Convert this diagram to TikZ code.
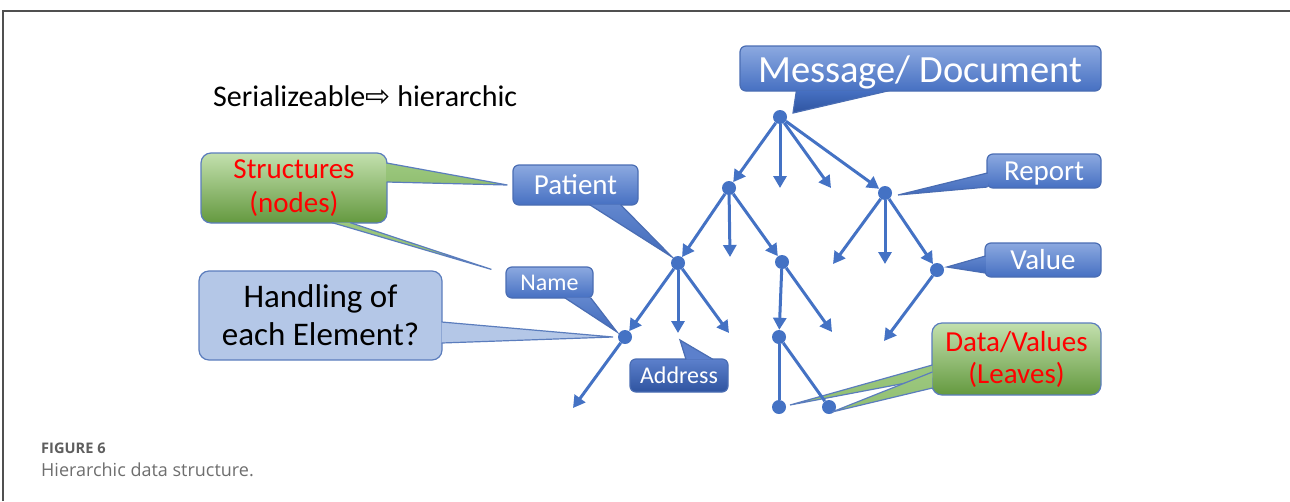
\documentclass[tikz,border=0pt]{standalone}
\usepackage{fontspec}
\setmainfont{Carlito}
\newfontfamily\symfont{DejaVu Sans}
\newfontfamily\capfont{Open Sans}
\usetikzlibrary{arrows.meta, positioning, calc}

\definecolor{treeblue}{HTML}{4472C4}
\definecolor{boxtop}{HTML}{8CA9E0}
\definecolor{boxbot}{HTML}{4670C2}
\definecolor{boxline}{HTML}{4A6DB3}
\definecolor{darktop}{HTML}{5C80CC}
\definecolor{darkbot}{HTML}{2F54A0}
\definecolor{paleblue}{HTML}{B4C7E7}
\definecolor{paleline}{HTML}{5B7DBD}
\definecolor{greentop}{HTML}{C3E0AE}
\definecolor{greenbot}{HTML}{64993F}
\definecolor{greenmid}{HTML}{9CC87E}
\definecolor{frameline}{HTML}{505050}
\definecolor{captext}{HTML}{6E6E6E}

\tikzset{
  dot/.style={circle, fill=treeblue, inner sep=0pt, minimum size=14pt},
  arr/.style={treeblue, line width=3pt, -{Triangle[length=12pt,width=13pt]}},
  link/.style={treeblue, line width=3pt},
  bluebox/.style={rounded corners=6pt, draw=boxline, line width=1.2pt, top color=boxtop, bottom color=boxbot, text=white, inner sep=0pt},
  darkbox/.style={bluebox, top color=darktop, bottom color=darkbot},
  palebox/.style={rounded corners=10pt, draw=paleline, line width=1.2pt, fill=paleblue, text=black, inner sep=0pt, align=center},
  greenbox/.style={rounded corners=10pt, draw=paleline, line width=1.2pt, top color=greentop, bottom color=greenbot, text=red, inner sep=0pt, align=center},
  bluetail/.style={draw=boxline, line width=1.2pt, top color=boxtop!40!boxbot, bottom color=boxbot!80!darkbot},
  paletail/.style={draw=paleline, line width=1.2pt, fill=paleblue},
  greentail/.style={draw=paleline, line width=1.2pt, top color=greenmid, bottom color=greenmid!80!greenbot},
}

\begin{document}
\begin{tikzpicture}[x=1pt, y=-1pt]
\useasboundingbox (0,0) rectangle (1290,501);
\draw[frameline, line width=1.5pt] (3,501) -- (3,11) -- (1290,11);

% title line
\node[anchor=base west, inner sep=0pt, font=\fontsize{30}{35}\selectfont] (title) at (213,106) {Serializeable{\symfont ⇨} hierarchic};

% callout boxes
\node[bluebox, minimum width=361pt, minimum height=45pt, text height=24.5pt, text depth=0pt, font=\fontsize{38.5}{42}\selectfont] (msg) at (920.5,68.5) {\raisebox{-1.5pt}{Message/ Document}};
\node[bluebox, minimum width=125pt, minimum height=40pt, text height=18.5pt, text depth=0pt, font=\fontsize{29}{34}\selectfont] (patient) at (575.5,185) {Patient};
\node[bluebox, minimum width=114pt, minimum height=34pt, text height=18.5pt, text depth=0pt, font=\fontsize{29}{34}\selectfont] (report) at (1044,171) {Report};
\node[bluebox, minimum width=116pt, minimum height=34pt, text height=18.5pt, text depth=0pt, font=\fontsize{29}{34}\selectfont] (value) at (1043,260) {Value};
\node[bluebox, minimum width=87pt, minimum height=31pt, text height=15.5pt, text depth=0pt, font=\fontsize{24}{28}\selectfont] (name) at (549.5,282.5) {Name};
\node[darkbox, minimum width=98pt, minimum height=33pt, text height=15.5pt, text depth=0pt, font=\fontsize{24}{28}\selectfont] (address) at (679,375.5) {Address};
\node[palebox, minimum width=243pt, minimum height=89pt, font=\fontsize{33}{38}\selectfont] (handling) at (320.5,315.5) {Handling of\\each Element?};
\node[greenbox, minimum width=186pt, minimum height=70pt, font=\fontsize{29}{34}\selectfont] (struct) at (294,188) {Structures\\(nodes)};
\node[greenbox, minimum width=169pt, minimum height=72pt, font=\fontsize{29}{32}\selectfont] (data) at (1016.5,359) {Data/Values\\(Leaves)};

% tree nodes
\node[dot] (R) at (780,117) {};
\node[dot] (A) at (729,188) {};
\node[dot] (B) at (885,193) {};
\node[dot] (C) at (678,263) {};
\node[dot] (D) at (782,262) {};
\node[dot] (E) at (937,270) {};
\node[dot] (F) at (625,337) {};
\node[dot] (G) at (779,337) {};
\node[dot] (H) at (779,407) {};
\node[dot] (I) at (829,407) {};
% open arrow ends
\coordinate (r2) at (780,188);
\coordinate (r3) at (831,188);
\coordinate (a2) at (730,257);
\coordinate (b1) at (833,264);
\coordinate (b2) at (885,264);
\coordinate (c2) at (678,333);
\coordinate (c3) at (729,333);
\coordinate (d2) at (832,332);
\coordinate (e1) at (884,341);
\coordinate (f1) at (573,408);

% callout tails
\path[bluetail, top color=boxbot, bottom color=darkbot] ([xshift=57pt,yshift=1pt]msg.south west) -- ($(R)+(13,-4)$) -- ([xshift=150pt,yshift=1pt]msg.south west);
\path[bluetail] ([xshift=14pt,yshift=1pt]patient.south) -- ($(C)+(-6,-6)$) -- ([xshift=45pt,yshift=1pt]patient.south);
\path[bluetail] ([xshift=15pt,yshift=1pt]name.south) -- ($(F)+(-8,-5)$) -- ([xshift=41pt,yshift=1pt]name.south);
\path[bluetail] ([xshift=1pt,yshift=-2pt]report.west) -- ($(B)+(13,2)$) -- ([xshift=1pt,yshift=-16pt]report.west);
\path[bluetail] ([xshift=1pt,yshift=4pt]value.west) -- ($(E)+(10,-3)$) -- ([xshift=1pt,yshift=-13pt]value.west);
\path[bluetail, top color=darktop, bottom color=darktop] ([xshift=7pt,yshift=-1pt]address.north) -- ($(c2)+(2,7)$) -- ([xshift=34pt,yshift=-1pt]address.north);
\path[paletail] ([xshift=-1pt,yshift=-6.5pt]handling.east) -- ($(F)+(-12,0)$) -- ([xshift=-1pt,yshift=-27.5pt]handling.east);
\path[greentail] ([xshift=-1pt,yshift=25pt]struct.east) -- ($(patient.west)+(-5,0)$) -- ([xshift=-1pt,yshift=6pt]struct.east);
\path[greentail] ([xshift=38pt,yshift=1pt]struct.south) -- ($(name.north west)+(-14,3)$) -- ([xshift=56pt,yshift=1pt]struct.south);
\path[greentail] ([xshift=1pt,yshift=-6pt]data.west) -- ($(H)+(11,-2)$) -- ([xshift=1pt,yshift=-19pt]data.west);
\path[greentail] ([xshift=1pt,yshift=-13pt]data.west) -- ($(I)+(3,5)$) -- ([xshift=1pt,yshift=-29pt]data.west);

% tree edges
\draw[arr] (R) -- (A);
\draw[arr] (R) -- (r2);
\draw[arr] (R) -- (r3);
\draw[arr] (R) -- (B);
\draw[arr] (A) -- (C);
\draw[arr] (A) -- (a2);
\draw[arr] (A) -- (D);
\draw[arr] (B) -- (b1);
\draw[arr] (B) -- (b2);
\draw[arr] (B) -- (E);
\draw[arr] (C) -- (F);
\draw[arr] (C) -- (c2);
\draw[arr] (C) -- (c3);
\draw[arr] (D) -- (G);
\draw[arr] (D) -- (d2);
\draw[arr] (E) -- (e1);
\draw[arr] (F) -- (f1);
\draw[link] (G) -- (H);
\draw[link] (G) -- (I);

% caption
\node[anchor=base west, inner sep=0pt, text=captext!85!black, font=\capfont\fontsize{14.6}{17}\selectfont\bfseries] (fig) at (41,453) {FIGURE 6};
\node[anchor=base west, inner sep=0pt, text=captext, font=\capfont\fontsize{18}{22}\selectfont] (cap) at (41,476) {Hierarchic data structure.};
\end{tikzpicture}
\end{document}
